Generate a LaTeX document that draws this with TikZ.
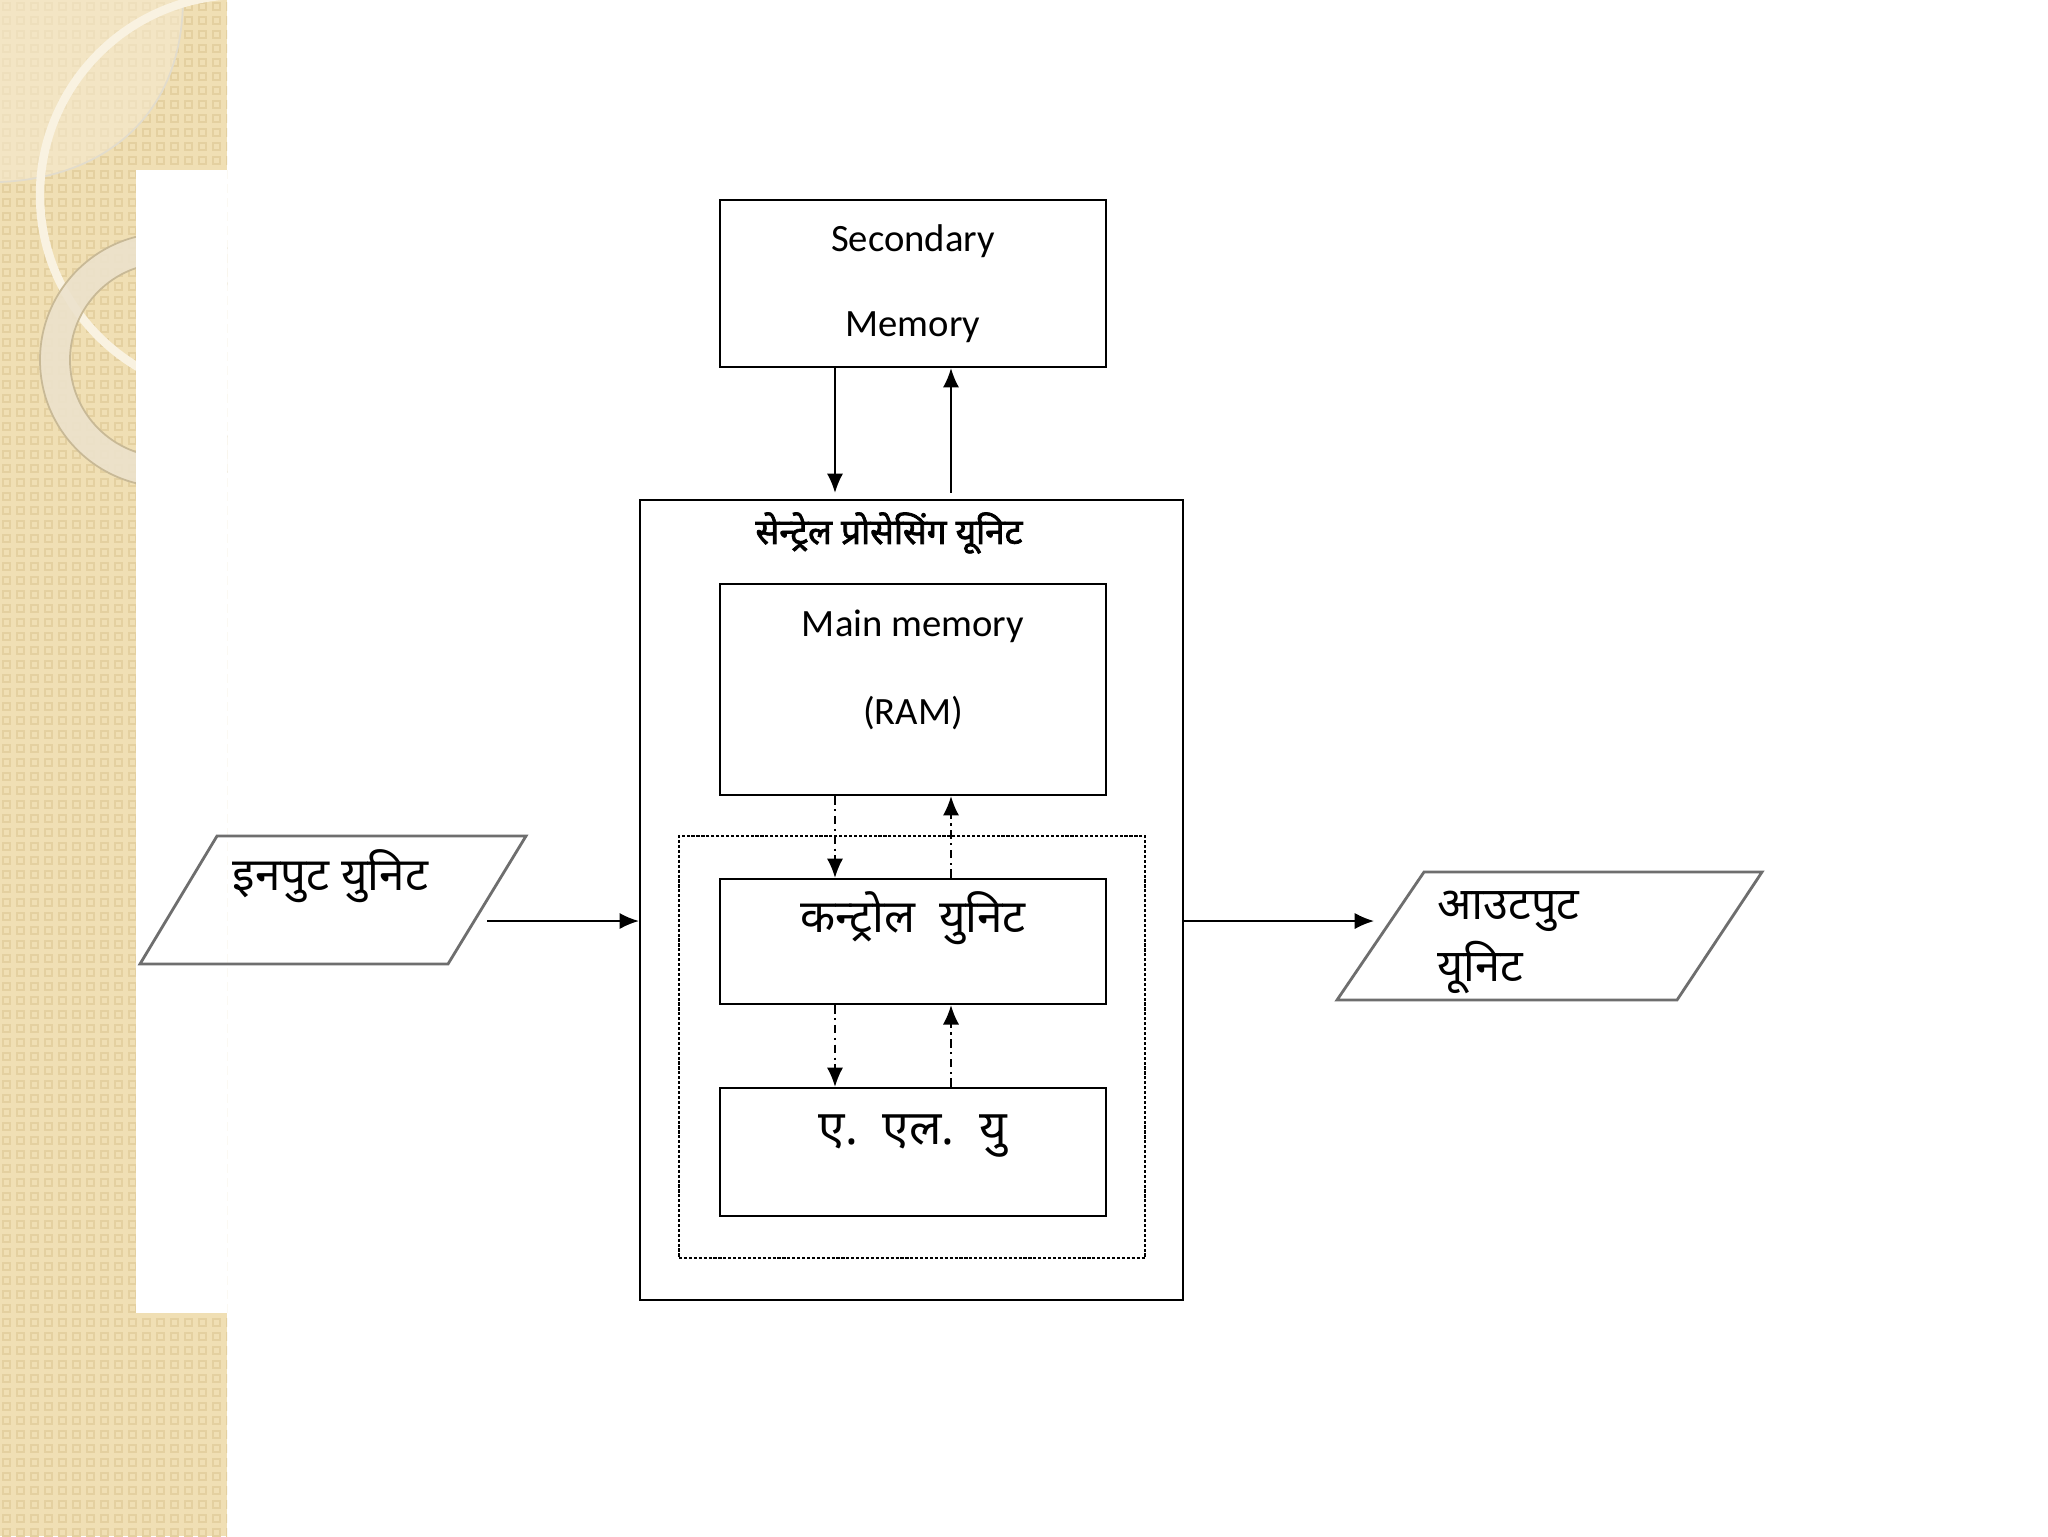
\documentclass[tikz,border=0pt]{standalone}
\usepackage{fontspec}
\setmainfont{Carlito}
\newfontfamily\dev[Script=Devanagari]{Noto Sans}
\newfontfamily\devb[Script=Devanagari,FakeBold=2.2]{Noto Sans}
\usetikzlibrary{arrows.meta}
\definecolor{beige}{RGB}{240,223,180}
\definecolor{beigedark}{RGB}{228,208,160}
\definecolor{beigelight}{RGB}{245,234,208}
\definecolor{ringcol}{RGB}{236,226,204}
\definecolor{ringedge}{RGB}{200,185,150}
\definecolor{paraline}{RGB}{110,110,110}
\tikzset{
  box/.style={draw=black, line width=0.65pt, minimum width=38.6mm, inner sep=0pt},
  arr/.style={line width=0.5pt, -{Latex[length=5.5pt,width=4.6pt]}},
  dashdot/.style={dash pattern=on 2.4pt off 1.3pt on 0.6pt off 1.3pt},
  latin/.style={font=\fontsize{11}{13}\selectfont, inner sep=0pt},
  devtxt/.style={font=\dev\fontsize{13}{15}\selectfont, inner sep=0pt},
  para/.style={draw=paraline, line width=0.8pt}
}
\begin{document}
\begin{tikzpicture}[x=0.1mm,y=-0.1mm]
\useasboundingbox (0,0) rectangle (2048,1536);
\fill[white] (0,0) rectangle (2048,1536);
% decorative strip
\begin{scope}
\clip (0,0) rectangle (227,1536);
\fill[beige] (0,0) rectangle (227,1536);
\foreach \i in {0,...,16}{
  \foreach \j in {0,...,110}{
    \draw[beigedark, line width=0.35pt] (\i*14+3,\j*14+3) rectangle +(7,7);
  }
}
\fill[beigelight, opacity=0.6] (0,0) -- (183,0) .. controls (182,120) and (100,178) .. (0,182) -- cycle;
\draw[beigedark!80!black!40, line width=0.5pt] (183,0) .. controls (182,120) and (100,178) .. (0,182);
\draw[white!60!beige, line width=2.4pt] (240,195) circle (200);
\draw[ringcol, line width=8.5pt, opacity=0.9] (167,360) circle (112);
\draw[ringedge, line width=0.5pt] (167,360) circle (127);
\draw[ringedge, line width=0.5pt] (167,360) circle (97);
\end{scope}
\fill[white] (136,170) rectangle (227,1313);

% boxes
\node[box, minimum height=16.7mm] (sec) at (913,283.5) {};
\node[box, minimum width=54.3mm, minimum height=80mm] (cpu) at (911.5,900) {};
\node[box, minimum height=21.1mm] (ram) at (913,689.5) {};
\node[draw=black, line width=0.5pt, dash pattern=on 0.9pt off 0.5pt, minimum width=46.6mm, minimum height=42.2mm, inner sep=0pt] (inner) at (912,1047) {};
\node[box, minimum height=12.5mm] (cu) at (913,941.5) {};
\node[box, minimum height=12.8mm] (alu) at (913,1152) {};

% texts
\node[latin] (t1) at (913,241) {Secondary};
\node[latin] (t2) at (913,327) {Memory};
\node[inner sep=0pt, font=\devb\fontsize{10}{12}\selectfont] (tcpu) at (889,533) {सेन्ट्रेल प्रोसेसिंग यूनिट};
\node[latin] (t3) at (913,626) {Main memory};
\node[latin] (t4) at (913,713) {(RAM)};
\node[devtxt] (tcu) at (913,918) {कन्ट्रोल\ \ युनिट};
\node[devtxt, font=\dev\fontsize{13.6}{15}\selectfont] (talu) at (913,1136) {ए.\ \ एल.\ \ यु};

% parallelograms
\coordinate (i1) at (217,836); \coordinate (i2) at (526,836);
\coordinate (i3) at (448,964); \coordinate (i4) at (140,964);
\draw[para] (i1) -- (i2) -- (i3) -- (i4) -- cycle;
\node[devtxt, anchor=west] (tin) at (232,876) {इनपुट युनिट};
\coordinate (o1) at (1424,872); \coordinate (o2) at (1762,872);
\coordinate (o3) at (1677,1000); \coordinate (o4) at (1337,1000);
\draw[para] (o1) -- (o2) -- (o3) -- (o4) -- cycle;
\node[devtxt, font=\dev\fontsize{12.8}{15}\selectfont, anchor=west] (tout1) at (1437,911) {आउटपुट};
\node[devtxt, font=\dev\fontsize{12.8}{15}\selectfont, anchor=west] (tout2) at (1437,967) {यूनिट};

% connectors
\coordinate (xl) at (835,0);
\coordinate (xr) at (951,0);
\coordinate (yin) at (0,921);
\coordinate (instart) at (487,921);
\coordinate (outend) at (1374,921);
\draw[arr, shorten >=0.6mm] (sec.south -| xl) -- (cpu.north -| xl);
\draw[arr, shorten <=0.6mm] (cpu.north -| xr) -- (sec.south -| xr);
\draw[arr, dashdot] (ram.south -| xl) -- (cu.north -| xl);
\draw[arr, dashdot] (cu.north -| xr) -- (ram.south -| xr);
\draw[arr, dashdot] (cu.south -| xl) -- (alu.north -| xl);
\draw[arr, dashdot] (alu.north -| xr) -- (cu.south -| xr);
\draw[arr] (instart) -- (cpu.west |- yin);
\draw[arr] (cpu.east |- yin) -- (outend);
\end{tikzpicture}
\end{document}
